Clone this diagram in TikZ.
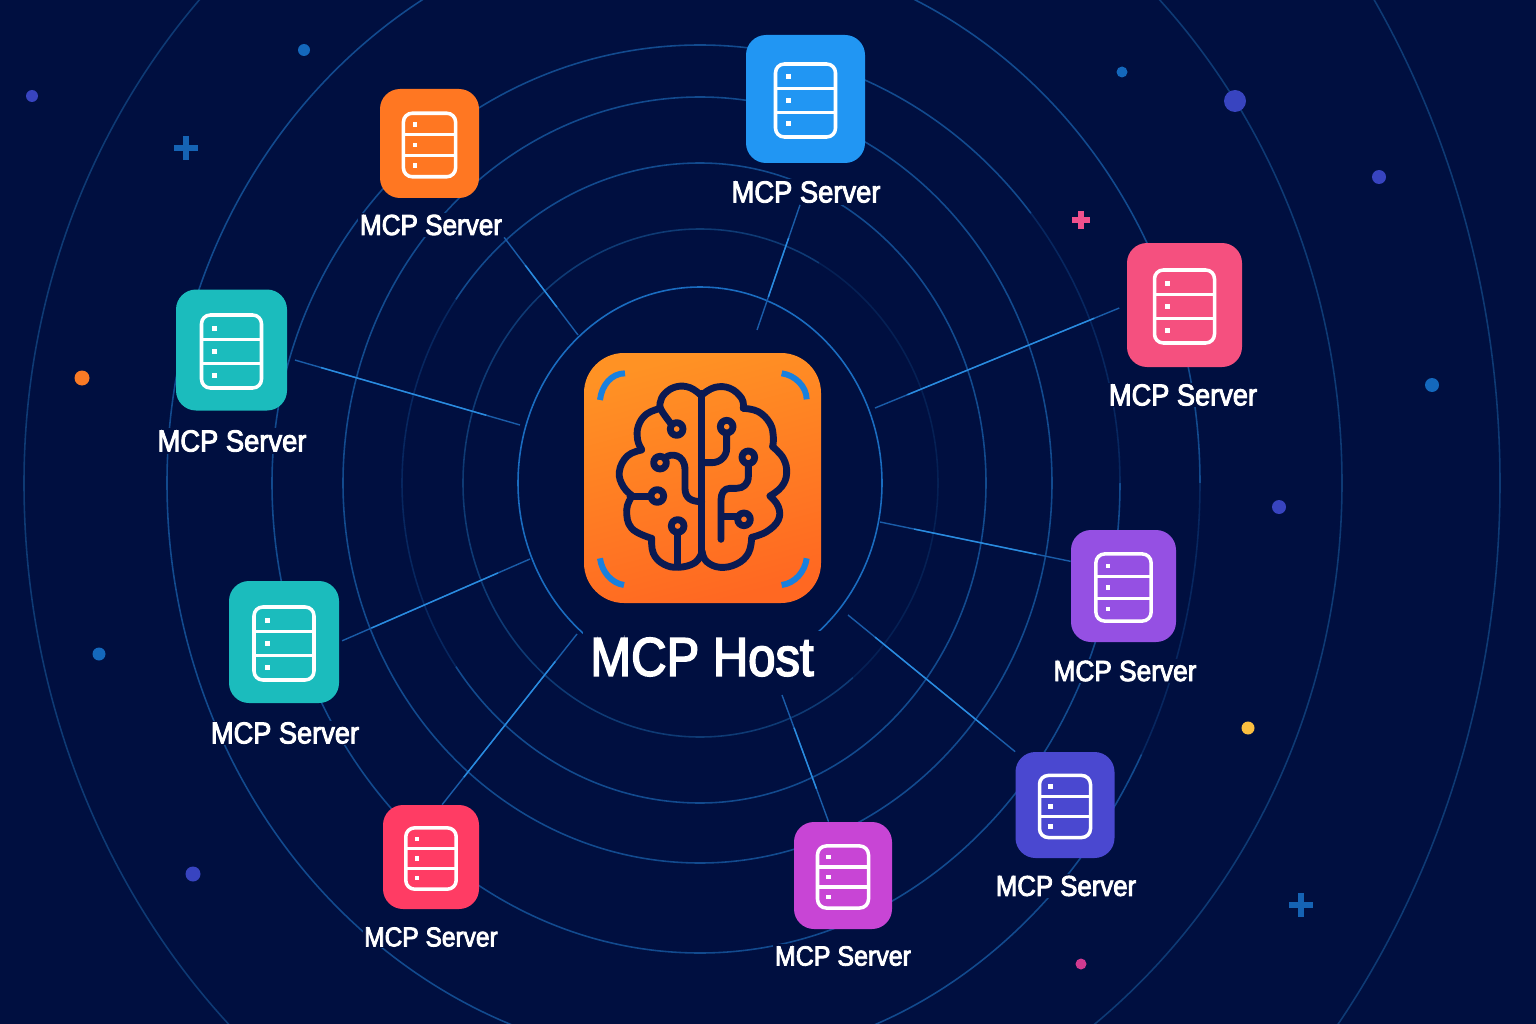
\documentclass[tikz,border=0pt]{standalone}
\usepackage{fontspec}
\setmainfont[FakeStretch=0.9,FakeBold=3]{Liberation Sans}
\usepackage{tikz}
\usetikzlibrary{positioning}

\definecolor{bgnavy}{HTML}{000F40}
\definecolor{ringA}{HTML}{1A6CC0}
\definecolor{ringB}{HTML}{124A8E}
\definecolor{ringC}{HTML}{0E3A74}
\definecolor{linkdim}{HTML}{1A5CA8}
\definecolor{linkblue}{HTML}{2A8CE0}
\definecolor{brainnavy}{HTML}{0B1A52}
\definecolor{cornerblue}{HTML}{1880DE}
\definecolor{hostA}{HTML}{FF9224}
\definecolor{hostB}{HTML}{FF6822}
\definecolor{srvblue}{HTML}{2196F3}
\definecolor{srvorange}{HTML}{FF7722}
\definecolor{srvpink}{HTML}{F5507F}
\definecolor{srvteal}{HTML}{1BBCBD}
\definecolor{srvpurple}{HTML}{9550E3}
\definecolor{srvred}{HTML}{FF3C64}
\definecolor{srvmagenta}{HTML}{C845D5}
\definecolor{srvindigo}{HTML}{4A48D0}
\definecolor{dotblue}{HTML}{1468BC}
\definecolor{dotviolet}{HTML}{3844C0}
\definecolor{dotorange}{HTML}{F97A25}
\definecolor{dotyellow}{HTML}{FBBF40}
\definecolor{dotpink}{HTML}{D03A90}
\definecolor{plusblue}{HTML}{1563B4}
\definecolor{pluspink}{HTML}{F0508C}

\def\px{0.02cm}

\tikzset{
  ring/.style={line width=0.9pt},
  ringfade/.style={draw=bgnavy,line width=1.6pt,draw opacity=0.6},
  link/.style={draw=linkdim,line width=0.8pt,postaction={draw=linkblue,shorten >=35*\px,shorten <=35*\px}},
  srvbox/.style={rounded corners=20*\px,inner sep=0pt},
  srvlabel/.style={text=white,fill=bgnavy,inner sep=1pt},
  brainline/.style={draw=brainnavy,line width=3.9pt,line cap=round,line join=round},
  corner/.style={draw=cornerblue,line width=3.4pt},
  icon/.style={draw=white,line width=2pt},
  plusmark/.style={line width=2.9pt}
}

\begin{document}
\begin{tikzpicture}[x=\px,y=-\px]
\useasboundingbox (0,0) rectangle (1536,1024);
\fill[bgnavy] (0,0) rectangle (1536,1024);

% rings: left, right radius, then top left, top right, bottom left, bottom right
\begin{scope}
\clip (0,0) rectangle (1536,1024);
\foreach \rl/\rr/\tl/\tr/\bl/\br/\col in {182/182/196/196/196/196/ringA,237/238/254/254/254/254/ringC,
  298/286/320/320/320/320/ringB,357/352/386/386/380/380/ringB,428/420/438/438/470/470/ringB,
  533/500/566/535/579/578/ringB,676/642/719/692/755/686/ringC,900/800/897/897/897/897/ringC}{
  \draw[ring,\col] (700,483+\br)
    arc[start angle=90,end angle=0,x radius=\rr,y radius=\br]
    (700+\rr,483) arc[start angle=0,end angle=-90,x radius=\rr,y radius=\tr]
    (700,483-\tl) arc[start angle=-90,end angle=-180,x radius=\rl,y radius=\tl]
    (700-\rl,483) arc[start angle=180,end angle=90,x radius=\rl,y radius=\bl];
}
% parts of the rings that fade out
\foreach \sx/\sy/\rx/\ry/\aa/\ab in {1120/483/420/438/0/-38,1200/483/500/578/0/28,402/483/298/320/180/215,
  402/483/298/320/180/145,938/483/238/254/0/-60,938/483/238/254/0/50}{
  \draw[ringfade] (\sx,\sy) arc[start angle=\aa,end angle=\ab,x radius=\rx,y radius=\ry];
}
\end{scope}

% small dots and plus marks
\foreach \dx/\dy/\dr/\col in {32/96/6/dotviolet,304/50/6/dotblue,1122/72/5.5/dotblue,1235/101/11/dotviolet,
  1379/177/7/dotviolet,1432/385/7/dotblue,1279/507/7/dotviolet,1248/728/6.5/dotyellow,82/378/7.5/dotorange,
  99/654/6.5/dotblue,193/874/7.5/dotviolet,1081/964/5.5/dotpink}{
  \fill[\col] (\dx,\dy) circle (\dr);
}
\foreach \dx/\dy/\ds/\col in {186/148/12/plusblue,1081/220/9/pluspink,1301/905/12/plusblue}{
  \draw[plusmark,\col] (\dx-\ds,\dy) -- (\dx+\ds,\dy);
  \draw[plusmark,\col] (\dx,\dy-\ds) -- (\dx,\dy+\ds);
}

% servers
\foreach \nm/\cx/\cy/\bw/\bh/\ic/\col/\lx/\ly/\fs in {
  blue/805.5/99/119/128/1/srvblue/806/192/17.3,
  orange/429.5/143.5/99/109/0.87/srvorange/431/225/16.5,
  pink/1184.5/305/115/124/1/srvpink/1183/395/17.2,
  teala/231.5/350/111/121/1/srvteal/232/441/17.3,
  purple/1123.5/586/105/112/0.92/srvpurple/1125/671/16.6,
  tealb/284/642/110/122/1/srvteal/285/733/17.2,
  red/431/857/96/104/0.84/srvred/431/937/15.5,
  magenta/843/875.5/98/107/0.85/srvmagenta/843/956/15.8,
  indigo/1065/805/99/106/0.85/srvindigo/1066/886/16.3}{
  \node[srvbox,fill=\col,minimum width=\bw*\px,minimum height=\bh*\px] (\nm) at (\cx,\cy) {};
  \begin{scope}[shift={(\cx,\cy+1.5)},scale=\ic]
    \draw[icon,rounded corners=5pt] (-30,-36.5) rectangle (30,36.5);
    \draw[icon] (-30,-12) -- (30,-12);
    \draw[icon] (-30,12) -- (30,12);
    \foreach \ry in {-23.5,0,23.5}{
      \fill[white] (-19.5,\ry-2.5) rectangle (-14.5,\ry+2.5);
    }
  \end{scope}
  \node[srvlabel,font=\fontsize{\fs}{\fs}\selectfont] (lbl\nm) at (\lx,\ly) {MCP Server};
}

% host
\node[rounded corners=40*\px,inner sep=0pt,minimum width=237*\px,minimum height=250*\px,
  top color=hostA,bottom color=hostB,shading angle=15] (host) at (702.5,478) {};
\node[srvlabel,inner sep=4pt,font=\fontsize{31}{31}\selectfont] (hostlabel) at (702,657) {MCP Host};

\begin{scope}[shift={(570,340)},x=\px/3,y=-\px/3]
\draw[corner] (90,180) .. controls (95,135) and (125,100) .. (165,100);
\draw[corner] (635,100) .. controls (675,105) and (710,140) .. (710,178);
\draw[corner] (90,655) .. controls (95,695) and (125,730) .. (162,735);
\draw[corner] (710,655) .. controls (705,695) and (675,730) .. (635,735);

% brain outline
\draw[brainline] (395,160) -- (395,640);
\draw[brainline] plot[smooth,tension=.7] coordinates {(392,165) (360,143) (320,140) (285,160) (270,190) (275,212) (302,250)};
\draw[brainline] plot[smooth,tension=.7] coordinates {(272,205) (230,222) (205,258) (203,300) (215,328)};
\draw[brainline] plot[smooth,tension=.7] coordinates {(215,330) (172,348) (148,395) (160,440) (190,470)};
\draw[brainline] plot[smooth,tension=.7] coordinates {(185,470) (170,510) (185,565) (245,595)};
\draw[brainline] plot[smooth,tension=.7] coordinates {(245,595) (250,640) (280,672) (325,682) (375,668) (397,635)};
\draw[brainline] plot[smooth,tension=.7] coordinates {(398,163) (435,142) (480,145) (515,175) (520,205)};
\draw[brainline] plot[smooth,tension=.7] coordinates {(520,205) (565,215) (600,250) (610,290) (608,320)};
\draw[brainline] plot[smooth,tension=.7] coordinates {(608,320) (640,355) (650,400) (635,440) (600,468)};
\draw[brainline] plot[smooth,tension=.7] coordinates {(600,468) (625,500) (625,540) (590,575) (545,592)};
\draw[brainline] plot[smooth,tension=.7] coordinates {(545,595) (535,640) (500,672) (450,682) (410,665) (397,638)};

% circuit traces
\foreach \tx/\ty in {320/267,270/368,262/468,323/558,470/260,535/352,522/538}{
  \draw[brainline] (\tx,\ty) circle (19);
}
\draw[brainline] (180,470) -- (240,470);
\draw[brainline] (323,580) -- (323,672);
\draw[brainline] (288,352) .. controls (300,340) and (345,340) .. (345,390) -- (345,445) .. controls (345,475) and (365,485) .. (395,485);
\draw[brainline] (470,282) -- (470,325) .. controls (470,350) and (450,368) .. (425,368) -- (400,368);
\draw[brainline] (535,375) -- (535,410) .. controls (535,432) and (520,445) .. (500,445) -- (480,445) .. controls (462,445) and (453,460) .. (453,480) -- (453,598);
\draw[brainline] (500,530) -- (455,530);
\end{scope}

% connectors
\coordinate (endorange) at (578,335);
\coordinate (endblue) at (757,330);
\coordinate (endpink) at (875,408);
\coordinate (endpurple) at (880,522);
\coordinate (endindigo) at (848,615);
\coordinate (endmagenta) at (782,695);
\coordinate (endred) at (577,634);
\coordinate (endtealb) at (530,559);
\coordinate (endteala) at (520,425);

\draw[link] (lblorange.south east) -- (endorange);
\draw[link] (lblblue.-115) -- (endblue);
\draw[link,shorten <=8*\px] (pink.west) -- (endpink);
\draw[link] (purple.155) -- (endpurple);
\draw[link] (indigo.north west) -- (endindigo);
\draw[link] (magenta.105) -- (endmagenta);
\draw[link] (red.78) -- (endred);
\draw[link,shorten <=3*\px] (tealb.east) -- (endtealb);
\draw[link,shorten <=8*\px] (teala.-8) -- (endteala);
\end{tikzpicture}
\end{document}
